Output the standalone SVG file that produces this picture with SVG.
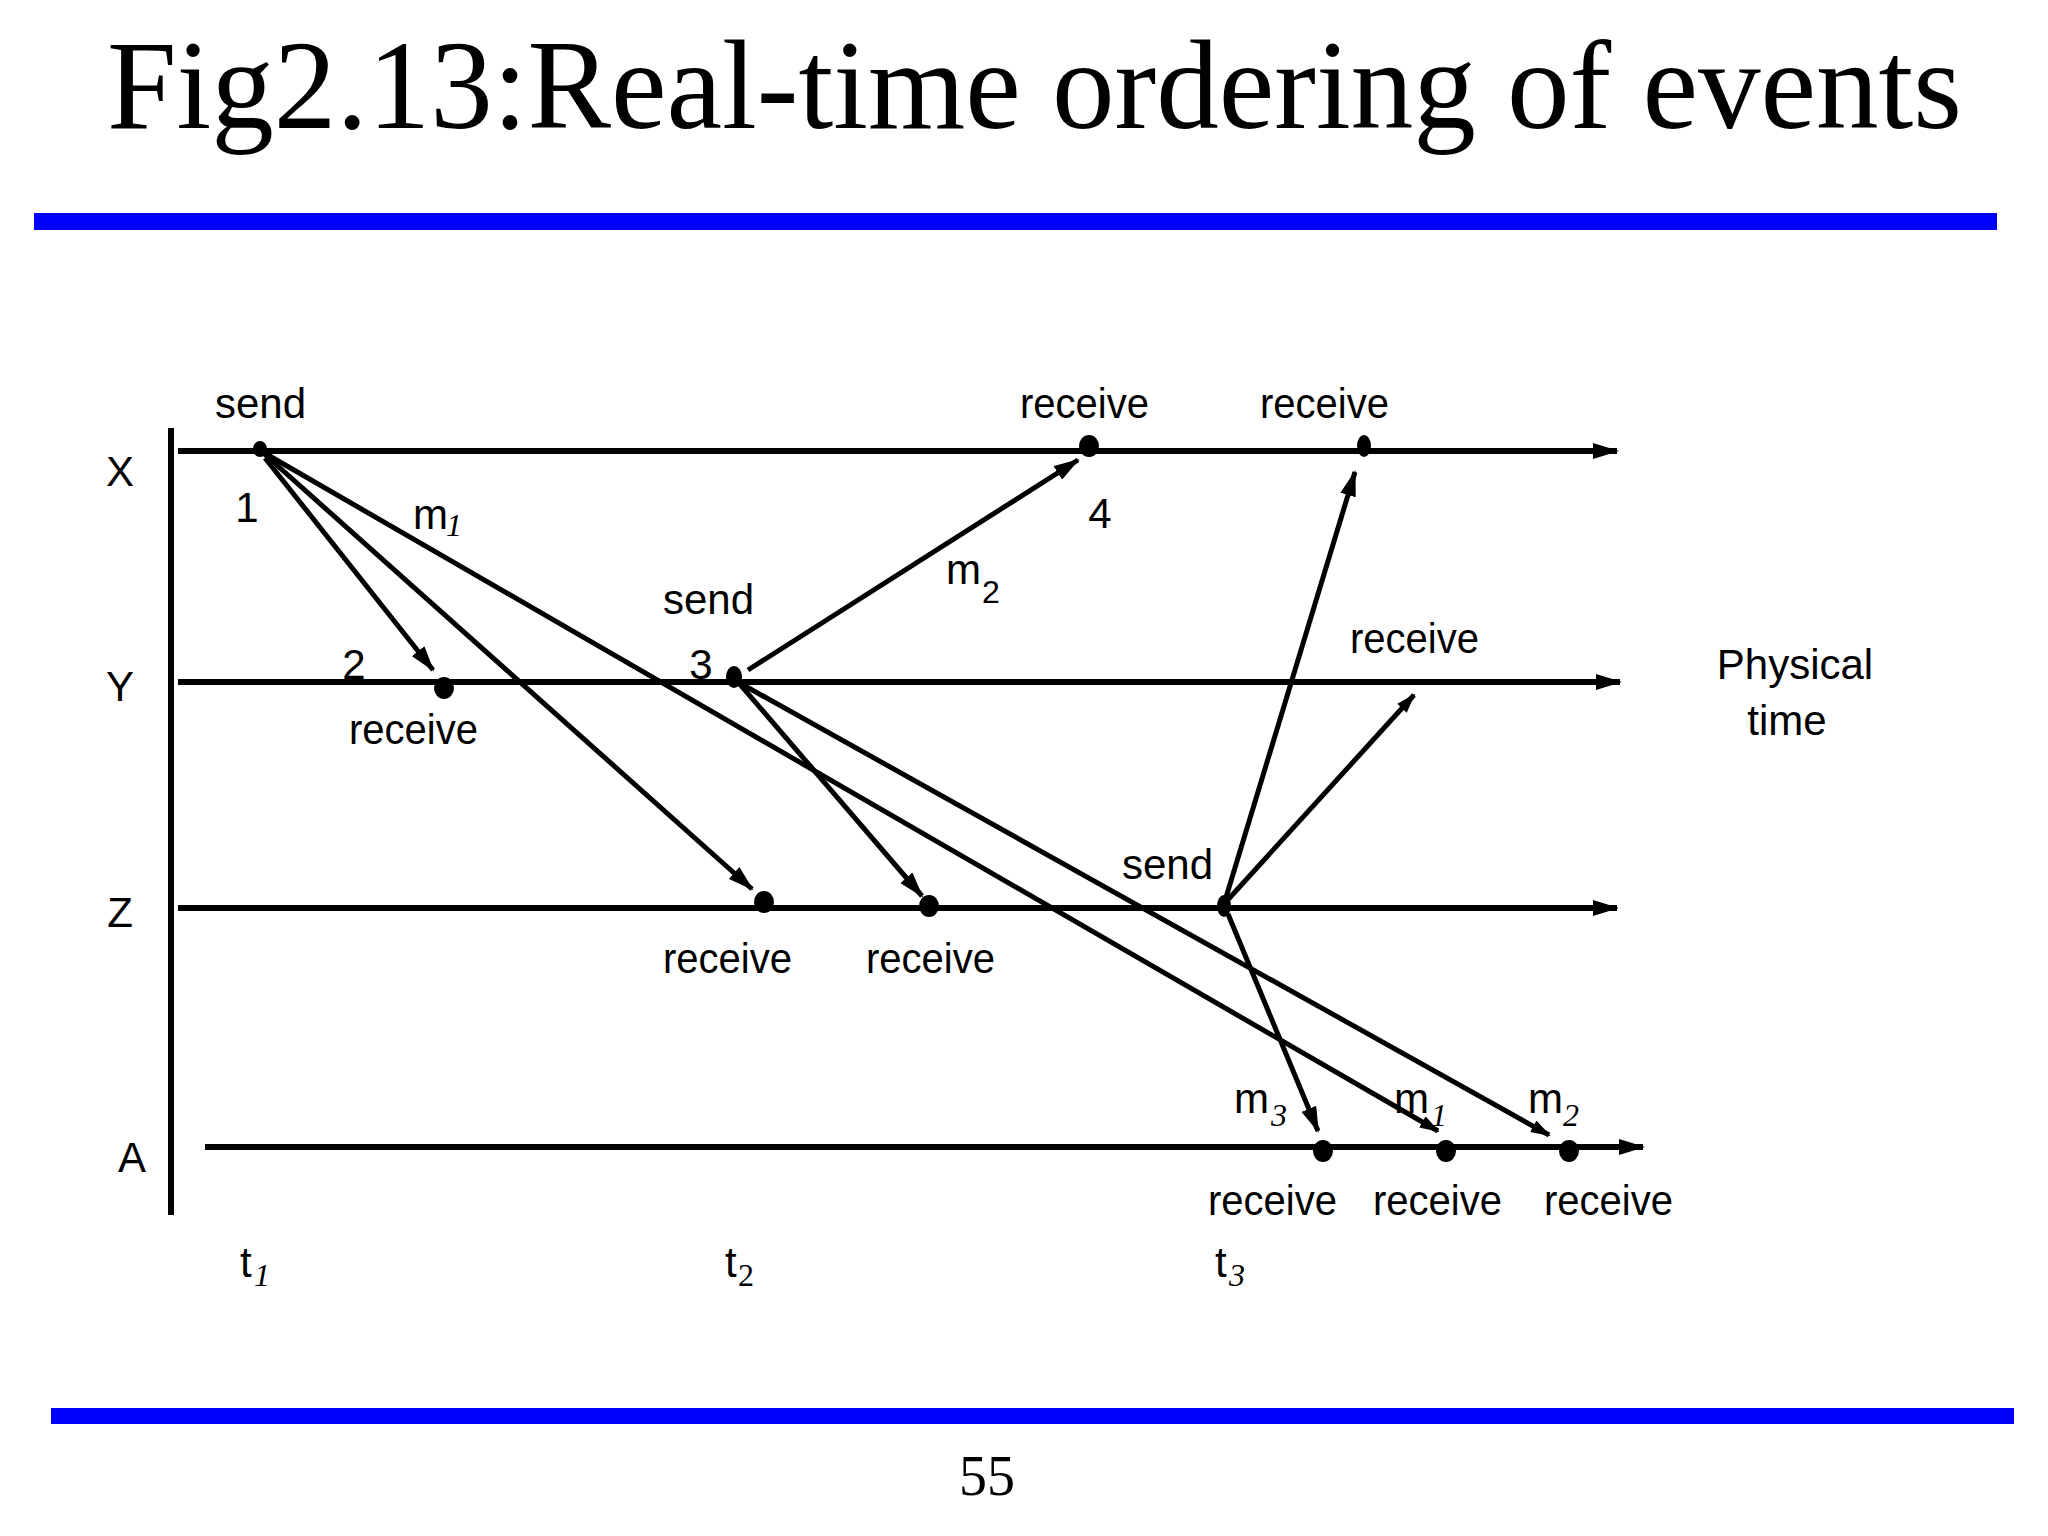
<svg xmlns="http://www.w3.org/2000/svg" width="2048" height="1536" viewBox="0 0 2048 1536">
<style>
.title{font-family:"Liberation Serif","Times New Roman",serif;font-size:128px;fill:#000}
.page{font-family:"Liberation Serif","Times New Roman",serif;font-size:56px;fill:#000}
.lbl{font-family:"Liberation Sans",Arial,sans-serif;font-size:42px;fill:#000}
.sub{font-family:"Liberation Serif","Times New Roman",serif;font-style:italic;font-size:32px;fill:#000}
.tl{stroke:#000;stroke-width:6;fill:none}
.msg{stroke:#000;stroke-width:5;fill:none}
.dot{fill:#000}
.bar{fill:#0000ff}
</style>
<defs>
<marker id="ah" markerUnits="userSpaceOnUse" markerWidth="26" markerHeight="16" refX="24" refY="8" orient="auto">
<path d="M0,0 L26,8 L0,16 z" fill="#000"/>
</marker>
<marker id="ahs" markerUnits="userSpaceOnUse" markerWidth="20" markerHeight="13" refX="18" refY="6.5" orient="auto">
<path d="M0,0 L20,6.5 L0,13 z" fill="#000"/>
</marker>
</defs>
<rect width="2048" height="1536" fill="#fff"/>
<text class="title" x="107" y="128" textLength="1855" lengthAdjust="spacingAndGlyphs">Fig2.13:Real-time ordering of events</text>
<rect class="bar" x="34" y="213" width="1963" height="17"/>
<rect class="bar" x="51" y="1408" width="1963" height="16"/>
<text class="page" x="987" y="1495" text-anchor="middle">55</text>

<g id="axis">
<line class="tl" x1="171" y1="428" x2="171" y2="1215"/>
</g>
<g id="timelines">
<line class="tl" x1="178" y1="451" x2="1617" y2="451" marker-end="url(#ah)"/>
<line class="tl" x1="178" y1="682" x2="1620" y2="682" marker-end="url(#ah)"/>
<line class="tl" x1="178" y1="908" x2="1617" y2="908" marker-end="url(#ah)"/>
<line class="tl" x1="205" y1="1147" x2="1643" y2="1147" marker-end="url(#ah)"/>
<text class="lbl" x="120" y="486" text-anchor="middle">X</text>
<text class="lbl" x="120" y="701" text-anchor="middle">Y</text>
<text class="lbl" x="120" y="927" text-anchor="middle">Z</text>
<text class="lbl" x="132" y="1172" text-anchor="middle">A</text>
<text class="lbl" x="1795" y="679" text-anchor="middle">Physical</text>
<text class="lbl" x="1787" y="735" text-anchor="middle">time</text>
</g>

<g id="connectors">
<line class="msg" x1="265" y1="458" x2="433" y2="670" marker-end="url(#ah)"/>
<line class="msg" x1="261" y1="451" x2="752" y2="889" marker-end="url(#ah)"/>
<line class="msg" x1="261" y1="451" x2="1438" y2="1131" marker-end="url(#ahs)"/>
<line class="msg" x1="748" y1="670" x2="1078" y2="460" marker-end="url(#ah)"/>
<line class="msg" x1="738" y1="682" x2="922" y2="896" marker-end="url(#ah)"/>
<line class="msg" x1="738" y1="682" x2="1549" y2="1135" marker-end="url(#ahs)"/>
<line class="msg" x1="1224" y1="904" x2="1355" y2="472" marker-end="url(#ah)"/>
<line class="msg" x1="1224" y1="904" x2="1414" y2="695" marker-end="url(#ahs)"/>
<line class="msg" x1="1228" y1="914" x2="1318" y2="1131" marker-end="url(#ah)"/>
</g>

<g id="ev-x-send"><ellipse class="dot" cx="260" cy="449" rx="7" ry="8"/><text class="lbl" x="215" y="418">send</text><text class="lbl" x="247" y="522" text-anchor="middle">1</text></g>
<g id="ev-y-recv2"><ellipse class="dot" cx="444" cy="688" rx="10" ry="11"/><text class="lbl" x="354" y="679" text-anchor="middle">2</text><text class="lbl" x="349" y="744" textLength="129" lengthAdjust="spacingAndGlyphs">receive</text></g>
<g id="ev-y-send3"><ellipse class="dot" cx="734" cy="677" rx="8" ry="11"/><text class="lbl" x="663" y="614">send</text><text class="lbl" x="701" y="679" text-anchor="middle">3</text></g>
<g id="ev-x-recv4"><ellipse class="dot" cx="1089" cy="446" rx="10" ry="11"/><text class="lbl" x="1020" y="418" textLength="129" lengthAdjust="spacingAndGlyphs">receive</text><text class="lbl" x="1100" y="528" text-anchor="middle">4</text></g>
<g id="ev-x-recv5"><ellipse class="dot" cx="1364" cy="446" rx="7" ry="11"/><text class="lbl" x="1260" y="418" textLength="129" lengthAdjust="spacingAndGlyphs">receive</text></g>
<g id="ev-y-recv6"><text class="lbl" x="1350" y="653" textLength="129" lengthAdjust="spacingAndGlyphs">receive</text></g>
<g id="ev-z-recv1"><ellipse class="dot" cx="764" cy="902" rx="10" ry="11"/><text class="lbl" x="663" y="973" textLength="129" lengthAdjust="spacingAndGlyphs">receive</text></g>
<g id="ev-z-recv2"><ellipse class="dot" cx="929" cy="906" rx="10" ry="11"/><text class="lbl" x="866" y="973" textLength="129" lengthAdjust="spacingAndGlyphs">receive</text></g>
<g id="ev-z-send"><ellipse class="dot" cx="1224" cy="906" rx="7" ry="11"/><text class="lbl" x="1122" y="879">send</text></g>
<g id="ev-a-recv-m3"><ellipse class="dot" cx="1323" cy="1151" rx="10" ry="11"/><text class="lbl" x="1208" y="1215" textLength="129" lengthAdjust="spacingAndGlyphs">receive</text></g>
<g id="ev-a-recv-m1"><ellipse class="dot" cx="1446" cy="1151" rx="10" ry="11"/><text class="lbl" x="1373" y="1215" textLength="129" lengthAdjust="spacingAndGlyphs">receive</text></g>
<g id="ev-a-recv-m2"><ellipse class="dot" cx="1569" cy="1151" rx="10" ry="11"/><text class="lbl" x="1544" y="1215" textLength="129" lengthAdjust="spacingAndGlyphs">receive</text></g>

<g id="msg-labels">
<text class="lbl" x="413" y="529">m</text><text class="sub" x="446" y="536">1</text>
<text class="lbl" x="946" y="584">m</text><text class="lbl" x="982" y="603" style="font-size:32px">2</text>
<text class="lbl" x="1234" y="1113">m</text><text class="sub" x="1271" y="1126">3</text>
<text class="lbl" x="1394" y="1113">m</text><text class="sub" x="1431" y="1126">1</text>
<text class="lbl" x="1528" y="1113">m</text><text class="sub" x="1563" y="1126">2</text>
</g>
<g id="time-labels">
<text class="lbl" x="240" y="1277">t</text><text class="sub" x="254" y="1286">1</text>
<text class="lbl" x="725" y="1277">t</text><text class="sub" x="738" y="1286" style="font-style:normal">2</text>
<text class="lbl" x="1215" y="1277">t</text><text class="sub" x="1229" y="1286">3</text>
</g>
</svg>
